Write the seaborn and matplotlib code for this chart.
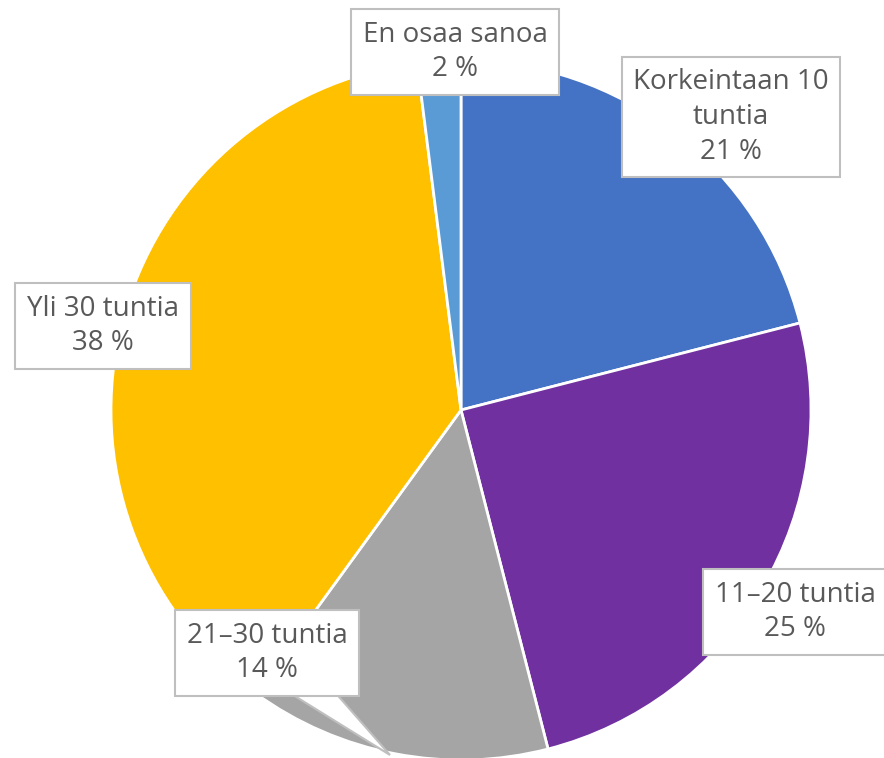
import matplotlib
matplotlib.use("Agg")
import matplotlib.pyplot as plt
from matplotlib.patches import Polygon
import seaborn as sns

categories = ["Korkeintaan 10\ntuntia", "11–20 tuntia", "21–30 tuntia", "Yli 30 tuntia", "En osaa sanoa"]
values = [21, 25, 14, 38, 2]
value_labels = ["21 %", "25 %", "14 %", "38 %", "2 %"]
colors = ["#4472C4", "#7030A0", "#A5A5A5", "#FFC000", "#5B9BD5"]

sns.set_theme(style="white")
plt.rcParams["font.family"] = ["Open Sans", "DejaVu Sans"]

W, H = 884, 758
fig = plt.figure(figsize=(W / 100, H / 100), dpi=100)
ax = fig.add_axes([0, 0, 1, 1])

cx, cy, r = 461, H - 410, 350
ax.pie(values, colors=colors, startangle=90, counterclock=False,
       center=(cx, cy), radius=r, frame=True,
       wedgeprops=dict(edgecolor="white", linewidth=2))
ax.set_xlim(0, W)
ax.set_ylim(0, H)
ax.set_aspect("equal")
ax.axis("off")

# label box centres (pixel layout)
label_pos = [(731, 117), (795, 612), (267, 653), (103, 326), (455, 52)]

# callout pointer for 21–30 label
ptr = Polygon([(285, H - 690), (390, H - 755), (333, H - 690)], closed=True,
              facecolor="white", edgecolor="#BFBFBF", linewidth=1.5, zorder=4)
ax.add_patch(ptr)

for cat, vl, (px, py) in zip(categories, value_labels, label_pos):
    ax.text(px, H - py, f"{cat}\n{vl}", ha="center", va="center",
            fontsize=20, color="#595959", linespacing=1.32, zorder=5,
            bbox=dict(boxstyle="square,pad=0.42", facecolor="white",
                      edgecolor="#BFBFBF", linewidth=1.5))

fig.savefig("out.png", dpi=100)
